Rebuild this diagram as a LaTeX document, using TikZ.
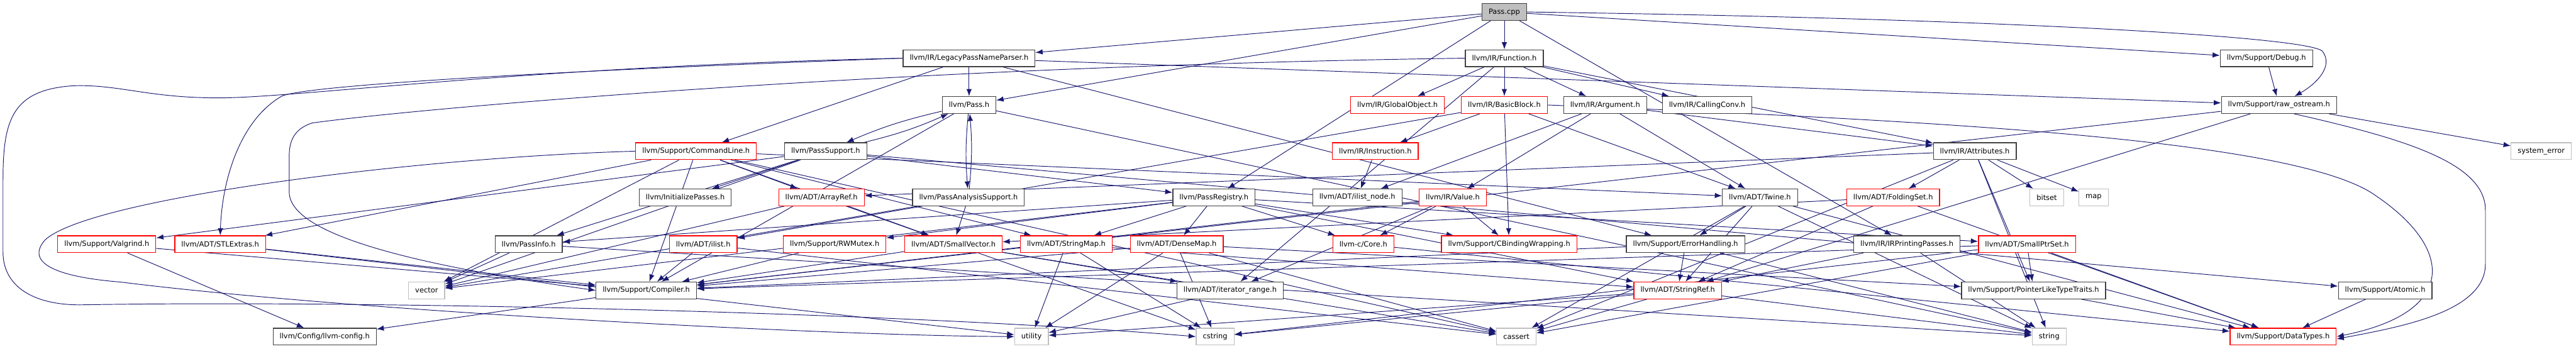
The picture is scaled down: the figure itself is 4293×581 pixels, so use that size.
\documentclass[tikz,border=0pt]{standalone}
\usepackage{fontspec}
\usepackage{tikz}
\usetikzlibrary{arrows.meta}
\newfontfamily\dotfont{DejaVu Sans}
\definecolor{edgeblue}{HTML}{191970}
\definecolor{boxgrey}{HTML}{404040}
\definecolor{boxred}{HTML}{FF0000}
\definecolor{sysgrey}{HTML}{BFBFBF}
\pgfdeclarelayer{edges}
\pgfsetlayers{edges,main}
\tikzset{
    hnode/.style={rectangle, draw=boxgrey, fill=white, line width=1.3pt, minimum height=28pt, inner xsep=11pt, inner ysep=0pt, font=\dotfont\fontsize{12}{14}\selectfont},
    rnode/.style={hnode, draw=boxred},
    snode/.style={hnode, draw=sysgrey},
    rootnode/.style={hnode, fill=sysgrey},
    incl/.style={draw=edgeblue, line width=1pt, -{Latex[length=12pt, width=9pt]}},
}

\begin{document}
\begin{tikzpicture}[x=1pt, y=-1pt]
    \useasboundingbox (0,0) rectangle (4293,581);

    \node[rootnode] (root) at (2507,20) {Pass.cpp};

    \node[hnode] (lpnp) at (1615,97) {llvm/IR/LegacyPassNameParser.h};
    \node[hnode] (function) at (2507,97) {llvm/IR/Function.h};
    \node[hnode] (debug) at (3777,97) {llvm/Support/Debug.h};

    \node[hnode] (pass) at (1615,175) {llvm/Pass.h};
    \node[rnode] (globalobj) at (2329,175) {llvm/IR/GlobalObject.h};
    \node[rnode] (basicblock) at (2507,175) {llvm/IR/BasicBlock.h};
    \node[hnode] (argument) at (2675,175) {llvm/IR/Argument.h};
    \node[hnode] (callingconv) at (2845,175) {llvm/IR/CallingConv.h};
    \node[hnode] (rawostream) at (3798,175) {llvm/Support/raw\_ostream.h};

    \node[rnode] (cmdline) at (1160,252) {llvm/Support/CommandLine.h};
    \node[hnode] (passsupport) at (1376,252) {llvm/PassSupport.h};
    \node[rnode] (instruction) at (2292,252) {llvm/IR/Instruction.h};
    \node[hnode] (attributes) at (3291,252) {llvm/IR/Attributes.h};
    \node[snode] (syserror) at (4235,252) {system\_error};

    \node[hnode] (initpasses) at (1142,329) {llvm/InitializePasses.h};
    \node[rnode] (arrayref) at (1369,329) {llvm/ADT/ArrayRef.h};
    \node[hnode] (passanalysis) at (1614,329) {llvm/PassAnalysisSupport.h};
    \node[hnode] (passregistry) at (2023,329) {llvm/PassRegistry.h};
    \node[hnode] (ilistnode) at (2262,329) {llvm/ADT/ilist\_node.h};
    \node[rnode] (value) at (2421,329) {llvm/IR/Value.h};
    \node[hnode] (twine) at (2933,329) {llvm/ADT/Twine.h};
    \node[rnode] (foldingset) at (3155,329) {llvm/ADT/FoldingSet.h};
    \node[snode] (bitset) at (3411,329) {bitset};
    \node[snode] (stdmap) at (3489,329) {map};

    \node[rnode] (valgrind) at (178,407) {llvm/Support/Valgrind.h};
    \node[rnode] (stlextras) at (367,407) {llvm/ADT/STLExtras.h};
    \node[hnode] (passinfo) at (881,407) {llvm/PassInfo.h};
    \node[rnode] (ilist) at (1172,407) {llvm/ADT/ilist.h};
    \node[rnode] (rwmutex) at (1391,407) {llvm/Support/RWMutex.h};
    \node[rnode] (smallvector) at (1589,407) {llvm/ADT/SmallVector.h};
    \node[rnode] (stringmap) at (1777,407) {llvm/ADT/StringMap.h};
    \node[rnode] (densemap) at (1961,407) {llvm/ADT/DenseMap.h};
    \node[rnode] (core) at (2272,407) {llvm-c/Core.h};
    \node[rnode] (cbinding) at (2515,407) {llvm/Support/CBindingWrapping.h};
    \node[hnode] (errhandling) at (2809,407) {llvm/Support/ErrorHandling.h};
    \node[hnode] (irprinting) at (3178,407) {llvm/IR/IRPrintingPasses.h};
    \node[rnode] (smallptrset) at (3378,407) {llvm/ADT/SmallPtrSet.h};

    \node[snode] (vector) at (711,484) {vector};
    \node[hnode] (compiler) at (1077,484) {llvm/Support/Compiler.h};
    \node[hnode] (iterrange) at (2050,484) {llvm/ADT/iterator\_range.h};
    \node[rnode] (stringref) at (2796,484) {llvm/ADT/StringRef.h};
    \node[hnode] (ptrtraits) at (3389,484) {llvm/Support/PointerLikeTypeTraits.h};
    \node[hnode] (atomic) at (3975,484) {llvm/Support/Atomic.h};

    \node[hnode] (llvmconfig) at (541,561) {llvm/Config/llvm-config.h};
    \node[snode] (utility) at (1719,561) {utility};
    \node[snode] (cstring) at (2025,561) {cstring};
    \node[snode] (cassert) at (2527,561) {cassert};
    \node[snode] (stdstring) at (3415,561) {string};
    \node[rnode] (datatypes) at (3805,561) {llvm/Support/DataTypes.h};

    \begin{pgfonlayer}{edges}
    \foreach \t in {pass,function,irprinting,lpnp,passregistry,debug}
        \draw[incl] (root) -- (\t);
    \draw[incl] (root.east) .. controls (3300,30) and (3840,60) .. (3870,85)
        .. controls (3890,110) and (3860,140) .. ([xshift=26pt]rawostream.north);

    \foreach \t in {pass,cmdline,errhandling,rawostream}
        \draw[incl] (lpnp) -- (\t);
    \draw[incl] (lpnp.west) .. controls (1000,115) and (520,140) .. (470,160)
        .. controls (400,200) and (370,300) .. (stlextras.north);
    \draw[incl] (lpnp.west) .. controls (900,110) and (520,160) .. (377,163)
        .. controls (250,165) and (200,140) .. (121,143)
        .. controls (20,150) and (5,200) .. (5,300) -- (5,420)
        .. controls (5,480) and (60,510) .. (140,508)
        .. controls (600,500) and (1500,520) .. (cstring.west);

    \foreach \t in {iterrange,argument,attributes,basicblock,callingconv,globalobj}
        \draw[incl] (function) -- (\t);
    \draw[incl] (function.west) .. controls (1500,110) and (700,180) .. (520,205)
        .. controls (490,215) and (482,235) .. (482,260) -- (482,320)
        .. controls (482,400) and (750,450) .. (compiler.west);

    \draw[incl] (debug) -- (rawostream);

    \foreach \t in {compiler,stdstring}
        \draw[incl] (pass) -- (\t);
    \draw[incl] (pass) to[bend right=5] (passsupport);
    \draw[incl] (passsupport) to[bend right=5] (pass);
    \draw[incl] (pass) to[bend right=5] (passanalysis);
    \draw[incl] (passanalysis) to[bend right=5] (pass);

    \foreach \t in {twine,ilist,instruction,cbinding}
        \draw[incl] (basicblock) -- (\t);
    \draw[incl] (basicblock.east) .. controls (3200,200) and (3800,230) .. (3950,320)
        .. controls (4090,410) and (4100,520) .. (datatypes.east);

    \foreach \t in {twine,ilistnode,attributes,value}
        \draw[incl] (argument) -- (\t);

    \foreach \t in {stringref,compiler,syserror}
        \draw[incl] (rawostream) -- (\t);
    \draw[incl] ([xshift=25pt]rawostream.south) .. controls (4000,230) and (4142,270) .. (4142,350)
        -- (4142,440) .. controls (4142,520) and (4000,545) .. ([yshift=-4pt]datatypes.east);

    \foreach \t in {arrayref,smallvector,stringmap,twine,compiler,cassert,vector,stlextras}
        \draw[incl] (cmdline) -- (\t);
    \draw[incl] (cmdline.west) .. controls (700,262) and (150,330) .. (75,400)
        .. controls (40,440) and (100,462) .. (200,470)
        .. controls (600,520) and (1400,560) .. (utility.west);

    \foreach \t in {initpasses,passinfo,passregistry,atomic,valgrind,vector}
        \draw[incl] (passsupport) -- (\t);
    \draw[incl] (instruction) -- (ilistnode);
    \foreach \t in {arrayref,foldingset,ptrtraits,bitset,cassert,stdmap,stdstring}
        \draw[incl] (attributes) -- (\t);
    \foreach \t in {smallvector,vector}
        \draw[incl] (arrayref) -- (\t);
    \foreach \t in {smallvector,vector}
        \draw[incl] (passanalysis) -- (\t);
    \foreach \t in {core,densemap,smallptrset,stringmap,stringref,passinfo,cbinding,rwmutex,vector}
        \draw[incl] (passregistry) -- (\t);
    \foreach \t in {core,iterrange,cbinding,compiler}
        \draw[incl] (value) -- (\t);
    \foreach \t in {stringref,datatypes,errhandling,cassert,stdstring}
        \draw[incl] (twine) -- (\t);
    \foreach \t in {smallvector,stringref,datatypes}
        \draw[incl] (foldingset) -- (\t);
    \foreach \t in {llvmconfig,compiler}
        \draw[incl] (valgrind) -- (\t);
    \foreach \t in {compiler,utility}
        \draw[incl] (stlextras) -- (\t);
    \foreach \t in {vector,stdstring}
        \draw[incl] (passinfo) -- (\t);
    \foreach \t in {compiler,cassert}
        \draw[incl] (ilist) -- (\t);
    \draw[incl] (rwmutex) -- (compiler);
    \foreach \t in {iterrange,compiler,cassert,cstring}
        \draw[incl] (smallvector) -- (\t);
    \foreach \t in {stringref,utility,cstring}
        \draw[incl] (stringmap) -- (\t);
    \foreach \t in {compiler,ptrtraits,utility,cassert,cstring}
        \draw[incl] (densemap) -- (\t);
    \draw[incl] (core) -- (datatypes);
    \foreach \t in {stringref,compiler,stdstring}
        \draw[incl] (errhandling) -- (\t);
    \foreach \t in {stringref,stdstring}
        \draw[incl] (irprinting) -- (\t);
    \foreach \t in {compiler,datatypes,ptrtraits,cassert,cstring}
        \draw[incl] (smallptrset) -- (\t);
    \draw[incl] (compiler) -- (llvmconfig);
    \draw[incl] (iterrange) -- (utility);
    \foreach \t in {utility,cstring,cassert,stdstring}
        \draw[incl] (stringref) -- (\t);
    \draw[incl] (ptrtraits) -- (datatypes);
    \draw[incl] (atomic) -- (datatypes);
    \end{pgfonlayer}
\end{tikzpicture}
\end{document}
